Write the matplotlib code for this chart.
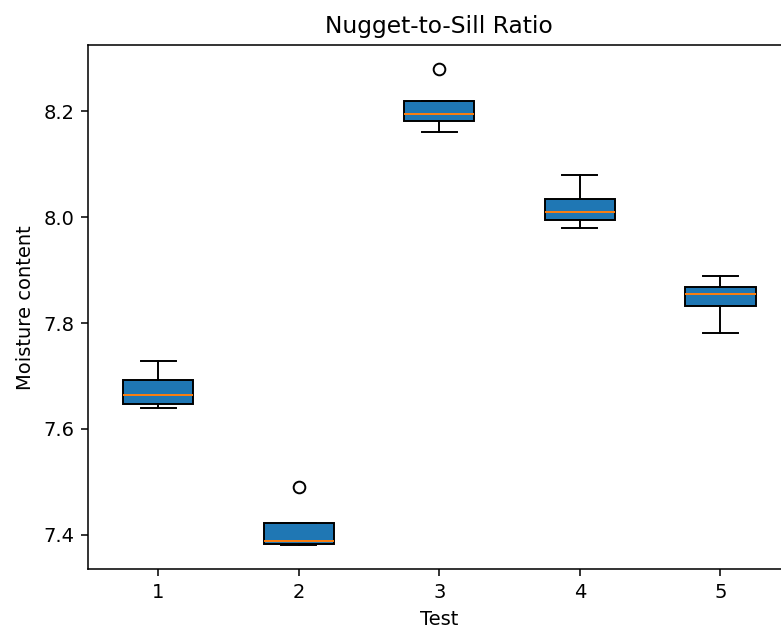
import numpy as np
import matplotlib
matplotlib.use("Agg")
import matplotlib.pyplot as plt

# readings per test
test_labels = ["1", "2", "3", "4", "5"]
test1 = [7.640, 7.648, 7.665, 7.692, 7.729]
test2 = [7.380, 7.382, 7.389, 7.422, 7.491]
test3 = [8.160, 8.182, 8.195, 8.219, 8.280]
test4 = [7.980, 7.994, 8.010, 8.034, 8.079]
test5 = [7.781, 7.833, 7.855, 7.869, 7.889]

data = [test1, test2, test3, test4, test5]

dpi = 140
fig = plt.figure(figsize=(781 / dpi, 628 / dpi), dpi=dpi)
# the reference is cropped on the right, so the axes run past the edge
ax = fig.add_axes([0.1124, 0.0935, 0.9, 0.8348])

ax.boxplot(data, patch_artist=True, tick_labels=test_labels)

ax.set_title("Nugget-to-Sill Ratio")
ax.set_xlabel("Test")
ax.set_ylabel("Moisture content")

fig.savefig("out.png", dpi=dpi)
